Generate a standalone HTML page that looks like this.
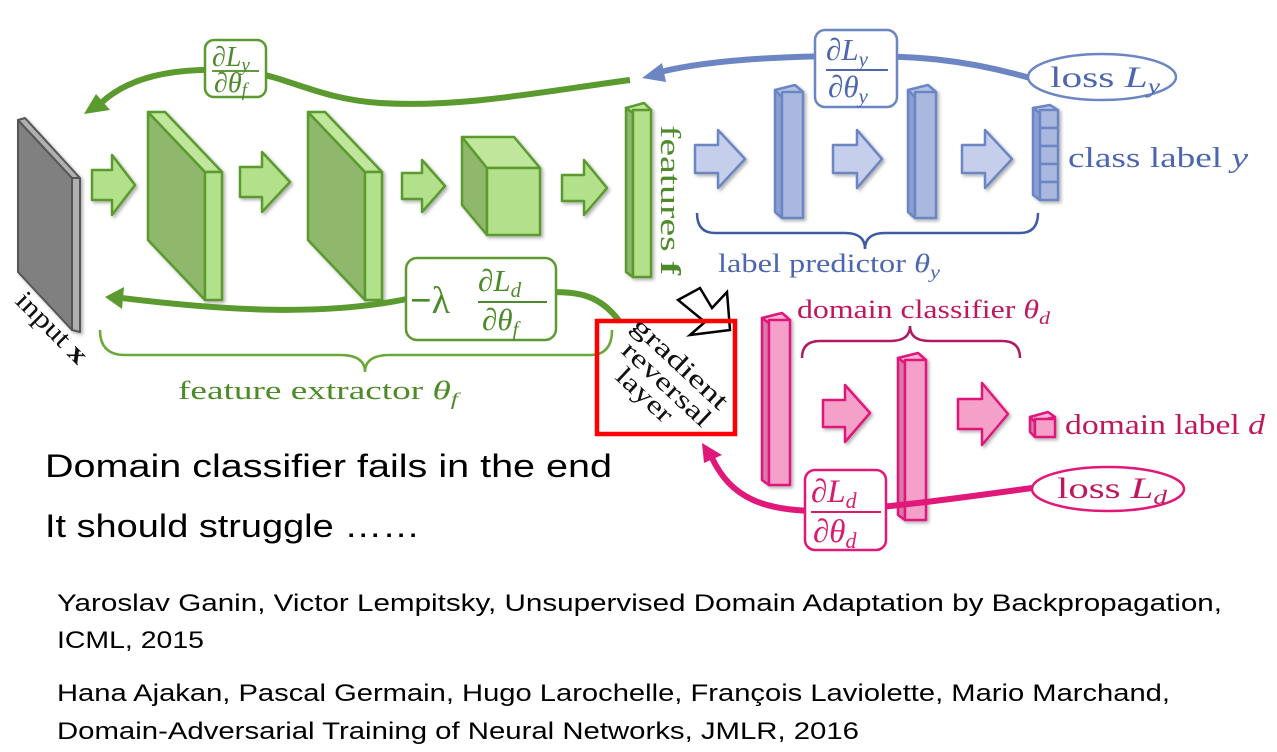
<!DOCTYPE html>
<html><head><meta charset="utf-8"><style>
html,body{margin:0;padding:0;background:#fff;width:1277px;height:752px;overflow:hidden}
svg{display:block}
.ser{font-family:"Liberation Serif",serif}
.it{font-style:italic}
.sans{font-family:"Liberation Sans",sans-serif}
</style></head><body>
<svg width="1277" height="752" viewBox="0 0 1277 752">
<defs>
<filter id="sh" x="-20%" y="-20%" width="140%" height="140%"><feDropShadow dx="2" dy="2" stdDeviation="1.5" flood-color="#000" flood-opacity="0.3"/></filter>
</defs>

<!-- input slab -->
<g stroke="#555" stroke-width="2" stroke-linejoin="round" filter="url(#sh)">
<polygon points="18,120 72,178 72,330 18,272" fill="#808080"/>
<polygon points="18,120 25,118 80,178 72,178" fill="#b0b0b0"/>
<polygon points="72,178 80,178 80,332 72,330" fill="#b0b0b0"/>
</g>
<text class="ser" font-size="27" transform="translate(14,302) rotate(45)" fill="#111" textLength="90" lengthAdjust="spacingAndGlyphs">input <tspan font-weight="bold">x</tspan></text>

<!-- green -->
<g stroke="#5a9a2e" stroke-width="2.5" stroke-linejoin="round" filter="url(#sh)">
<polygon points="92,170 112,170 112,155 135,185 112,215 112,200 92,200" fill="#b3e08a"/>
<polygon points="240,167 262,167 262,152 290,182 262,212 262,197 240,197" fill="#b3e08a"/>
<polygon points="402,173 422,173 422,160 445,186 422,212 422,199 402,199" fill="#b3e08a"/>
<polygon points="562,175 584,175 584,160 607,188 584,215 584,201 562,201" fill="#b3e08a"/>
<polygon points="148,112 205,172 205,300 148,240" fill="#8fb86c"/>
<polygon points="148,112 165,112 222,172 205,172" fill="#bfe69a"/>
<rect x="205" y="172" width="17" height="128" fill="#b3e08a"/>
<polygon points="308,112 365,172 365,300 308,240" fill="#8fb86c"/>
<polygon points="308,112 325,112 382,172 365,172" fill="#bfe69a"/>
<rect x="365" y="172" width="17" height="128" fill="#b3e08a"/>
<polygon points="462,137 487,168 487,235 462,205" fill="#8fb86c"/>
<polygon points="462,137 514,137 540,168 487,168" fill="#bfe69a"/>
<rect x="487" y="168" width="53" height="67" fill="#b3e08a"/>
<polygon points="626,108 633,113 633,277 626,272" fill="#8fb86c"/>
<polygon points="626,108 644,103 651,110 633,113" fill="#bfe69a"/>
<rect x="633" y="110" width="18" height="167" fill="#b3e08a"/>
</g>
<text class="ser" font-size="28" fill="#4e8a2a" transform="translate(661,125) rotate(90)" textLength="150" lengthAdjust="spacingAndGlyphs">features <tspan font-weight="bold">f</tspan></text>

<!-- blue -->
<g stroke="#6c86c4" stroke-width="2.5" stroke-linejoin="round" filter="url(#sh)">
<polygon points="695,145 718,145 718,130 745,159 718,188 718,173 695,173" fill="#c5cfec"/>
<polygon points="833,145 857,145 857,130 882,159 857,188 857,173 833,173" fill="#c5cfec"/>
<polygon points="962,145 985,145 985,130 1012,159 985,188 985,173 962,173" fill="#c5cfec"/>
<polygon points="775,90 782,97 782,218 775,212" fill="#8b9fd4"/>
<polygon points="775,90 795,85 803,92 782,97" fill="#b5c2e6"/>
<rect x="782" y="92" width="21" height="126" fill="#aab8e0"/>
<polygon points="908,90 915,97 915,218 908,212" fill="#8b9fd4"/>
<polygon points="908,90 928,85 936,92 915,97" fill="#b5c2e6"/>
<rect x="915" y="92" width="21" height="126" fill="#aab8e0"/>
<polygon points="1033,108 1040,113 1040,200 1033,195" fill="#8b9fd4"/>
<polygon points="1033,108 1050,105 1058,110 1040,113" fill="#b5c2e6"/>
<rect x="1040" y="110" width="18" height="18" fill="#aab8e0"/>
<rect x="1040" y="128" width="18" height="18" fill="#aab8e0"/>
<rect x="1040" y="146" width="18" height="18" fill="#aab8e0"/>
<rect x="1040" y="164" width="18" height="18" fill="#aab8e0"/>
<rect x="1040" y="182" width="18" height="18" fill="#aab8e0"/>
</g>
<text class="ser" font-size="29" fill="#4d66b0" x="1068" y="167" textLength="180" lengthAdjust="spacingAndGlyphs">class label <tspan class="it">y</tspan></text>
<path d="M697,213 Q697,233 715,233 L845,233 Q865,233 865,249 Q865,233 885,233 L1020,233 Q1038,233 1038,213" fill="none" stroke="#3f5aa6" stroke-width="2.5"/>
<text class="ser" font-size="26" fill="#4d66b0" x="718" y="272" textLength="222" lengthAdjust="spacingAndGlyphs">label predictor <tspan class="it">θ</tspan><tspan class="it" font-size="18" dy="6">y</tspan></text>

<!-- pink -->
<g stroke="#e0187a" stroke-width="2.5" stroke-linejoin="round" filter="url(#sh)">
<polygon points="823,400 845,400 845,385 870,413 845,442 845,427 823,427" fill="#f5a0c8"/>
<polygon points="958,399 982,399 982,383 1008,414 982,445 982,429 958,429" fill="#f5a0c8"/>
<polygon points="762,318 769,323 769,485 762,480" fill="#d77aa8"/>
<polygon points="762,318 782,313 790,320 769,323" fill="#f8b5d5"/>
<rect x="769" y="320" width="21" height="165" fill="#f5a0c8"/>
<polygon points="898,358 905,363 905,520 898,515" fill="#d77aa8"/>
<polygon points="898,358 918,353 926,360 905,363" fill="#f8b5d5"/>
<rect x="905" y="360" width="21" height="160" fill="#f5a0c8"/>
<polygon points="1030,417 1035,422 1035,437 1030,432" fill="#d77aa8"/>
<polygon points="1030,417 1048,412 1055,417 1035,422" fill="#f8b5d5"/>
<rect x="1035" y="419" width="20" height="18" fill="#f5a0c8"/>
</g>
<text class="ser" font-size="29" fill="#c0185e" x="1065" y="434" textLength="200" lengthAdjust="spacingAndGlyphs">domain label <tspan class="it">d</tspan></text>
<text class="ser" font-size="26" fill="#c0185e" x="797" y="318" textLength="253" lengthAdjust="spacingAndGlyphs">domain classifier <tspan class="it">θ</tspan><tspan class="it" font-size="18" dy="6">d</tspan></text>
<path d="M802,358 Q802,341 820,341 L890,341 Q910,341 910,326 Q910,341 930,341 L1002,341 Q1020,341 1020,358" fill="none" stroke="#b01a62" stroke-width="2.5"/>

<!-- curves -->
<path d="M630,80 C540,92 460,108 380,103 C320,99 290,78 250,72 C170,64 125,80 100,104" fill="none" stroke="#5a9a2e" stroke-width="6"/>
<polygon points="84,114 96,94 110,110" fill="#5a9a2e"/>
<path d="M1030,78 C960,58 910,56 857,56 C780,56 710,60 660,72" fill="none" stroke="#6c86c4" stroke-width="6"/>
<polygon points="642,78 662,63 666,82" fill="#6c86c4"/>
<path d="M620,322 C600,295 580,292 550,292 L420,296 C330,318 220,310 122,298" fill="none" stroke="#5a9a2e" stroke-width="6"/>
<polygon points="105,297 124,287 122,309" fill="#5a9a2e"/>
<path d="M1032,488 C960,498 900,506 845,510 C760,516 730,495 712,458" fill="none" stroke="#e0187a" stroke-width="6"/>
<polygon points="702,443 722,455 704,463" fill="#e0187a"/>

<!-- green brace -->
<path d="M100,330 Q100,355 125,355 L340,355 Q365,355 365,372 Q365,355 390,355 L590,355 Q612,355 612,330" fill="none" stroke="#6aa83a" stroke-width="2.5"/>
<text class="ser" font-size="26" fill="#4e8a2a" x="178" y="399" textLength="280" lengthAdjust="spacingAndGlyphs">feature extractor <tspan class="it">θ</tspan><tspan class="it" font-size="18" dy="6">f</tspan></text>

<!-- fraction boxes -->
<g class="ser it">
<rect x="205" y="40" width="61" height="57" rx="9" fill="#fff" stroke="#5a9a2e" stroke-width="2.5"/>
<text x="212" y="66" font-size="28" fill="#4e8a2a">∂L<tspan font-size="19" dy="5">y</tspan></text>
<line x1="212" y1="71" x2="259" y2="71" stroke="#4e8a2a" stroke-width="1.8"/>
<text x="214" y="92" font-size="28" fill="#4e8a2a">∂θ<tspan font-size="19" dy="4">f</tspan></text>

<rect x="815" y="30" width="82" height="77" rx="10" fill="#fff" stroke="#6c86c4" stroke-width="2.5"/>
<text x="826" y="60" font-size="31" fill="#4d66b0">∂L<tspan font-size="21" dy="6">y</tspan></text>
<line x1="826" y1="70" x2="888" y2="70" stroke="#4d66b0" stroke-width="2"/>
<text x="828" y="97" font-size="31" fill="#4d66b0">∂θ<tspan font-size="21" dy="6">y</tspan></text>

<rect x="406" y="258" width="150" height="82" rx="11" fill="#fff" stroke="#5a9a2e" stroke-width="2.5"/>
<text x="410" y="313" font-size="38" fill="#4e8a2a" font-style="normal"><tspan font-weight="bold">−</tspan>λ</text>
<text x="478" y="291" font-size="31" fill="#4e8a2a">∂L<tspan font-size="21" dy="6">d</tspan></text>
<line x1="478" y1="302" x2="547" y2="302" stroke="#4e8a2a" stroke-width="2"/>
<text x="482" y="330" font-size="31" fill="#4e8a2a">∂θ<tspan font-size="21" dy="6">f</tspan></text>

<rect x="805" y="470" width="81" height="80" rx="10" fill="#fff" stroke="#e0187a" stroke-width="2.5"/>
<text x="811" y="502" font-size="33" fill="#d81b72">∂L<tspan font-size="22" dy="6">d</tspan></text>
<line x1="811" y1="512" x2="881" y2="512" stroke="#d81b72" stroke-width="2"/>
<text x="813" y="542" font-size="33" fill="#d81b72">∂θ<tspan font-size="22" dy="6">d</tspan></text>
</g>

<!-- loss ellipses -->
<ellipse cx="1102" cy="77" rx="74" ry="23" fill="#fff" stroke="#6c86c4" stroke-width="2.5"/>
<text class="ser" x="1050" y="87" font-size="30" fill="#4d66b0" textLength="110" lengthAdjust="spacingAndGlyphs">loss <tspan class="it">L</tspan><tspan class="it" font-size="20" dy="6">y</tspan></text>
<ellipse cx="1108" cy="489" rx="76" ry="22" fill="#fff" stroke="#e0187a" stroke-width="2.5"/>
<text class="ser" x="1057" y="498" font-size="30" fill="#c0185e" textLength="110" lengthAdjust="spacingAndGlyphs">loss <tspan class="it">L</tspan><tspan class="it" font-size="20" dy="6">d</tspan></text>

<!-- black outline arrow -->
<polygon points="678,300 700,288 712,308 727,292 730,330 690,335 705,322" fill="#fff" stroke="#000" stroke-width="2.5" stroke-linejoin="miter"/>

<!-- red box -->
<rect x="597" y="321" width="138" height="113" fill="none" stroke="#ff0000" stroke-width="4.5"/>
<g class="ser" font-size="26" fill="#111">
<text transform="translate(630,328) rotate(43)" textLength="122" lengthAdjust="spacingAndGlyphs">gradient</text>
<text transform="translate(620,352) rotate(43)" textLength="112" lengthAdjust="spacingAndGlyphs">reversal</text>
<text transform="translate(614,378) rotate(43)" textLength="68" lengthAdjust="spacingAndGlyphs">layer</text>
</g>

<!-- body text -->
<g class="sans" fill="#000">
<text x="45" y="477" font-size="32" textLength="567" lengthAdjust="spacingAndGlyphs">Domain classifier fails in the end</text>
<text x="45" y="537" font-size="32" textLength="375" lengthAdjust="spacingAndGlyphs">It should struggle ……</text>
<text x="57" y="611" font-size="24" textLength="1165" lengthAdjust="spacingAndGlyphs">Yaroslav Ganin, Victor Lempitsky, Unsupervised Domain Adaptation by Backpropagation,</text>
<text x="57" y="648" font-size="24" textLength="147" lengthAdjust="spacingAndGlyphs">ICML, 2015</text>
<text x="57" y="701" font-size="24" textLength="1113" lengthAdjust="spacingAndGlyphs">Hana Ajakan, Pascal Germain, Hugo Larochelle, François Laviolette, Mario Marchand,</text>
<text x="57" y="739" font-size="24" textLength="802" lengthAdjust="spacingAndGlyphs">Domain-Adversarial Training of Neural Networks, JMLR, 2016</text>
</g>
</svg>
</body></html>
